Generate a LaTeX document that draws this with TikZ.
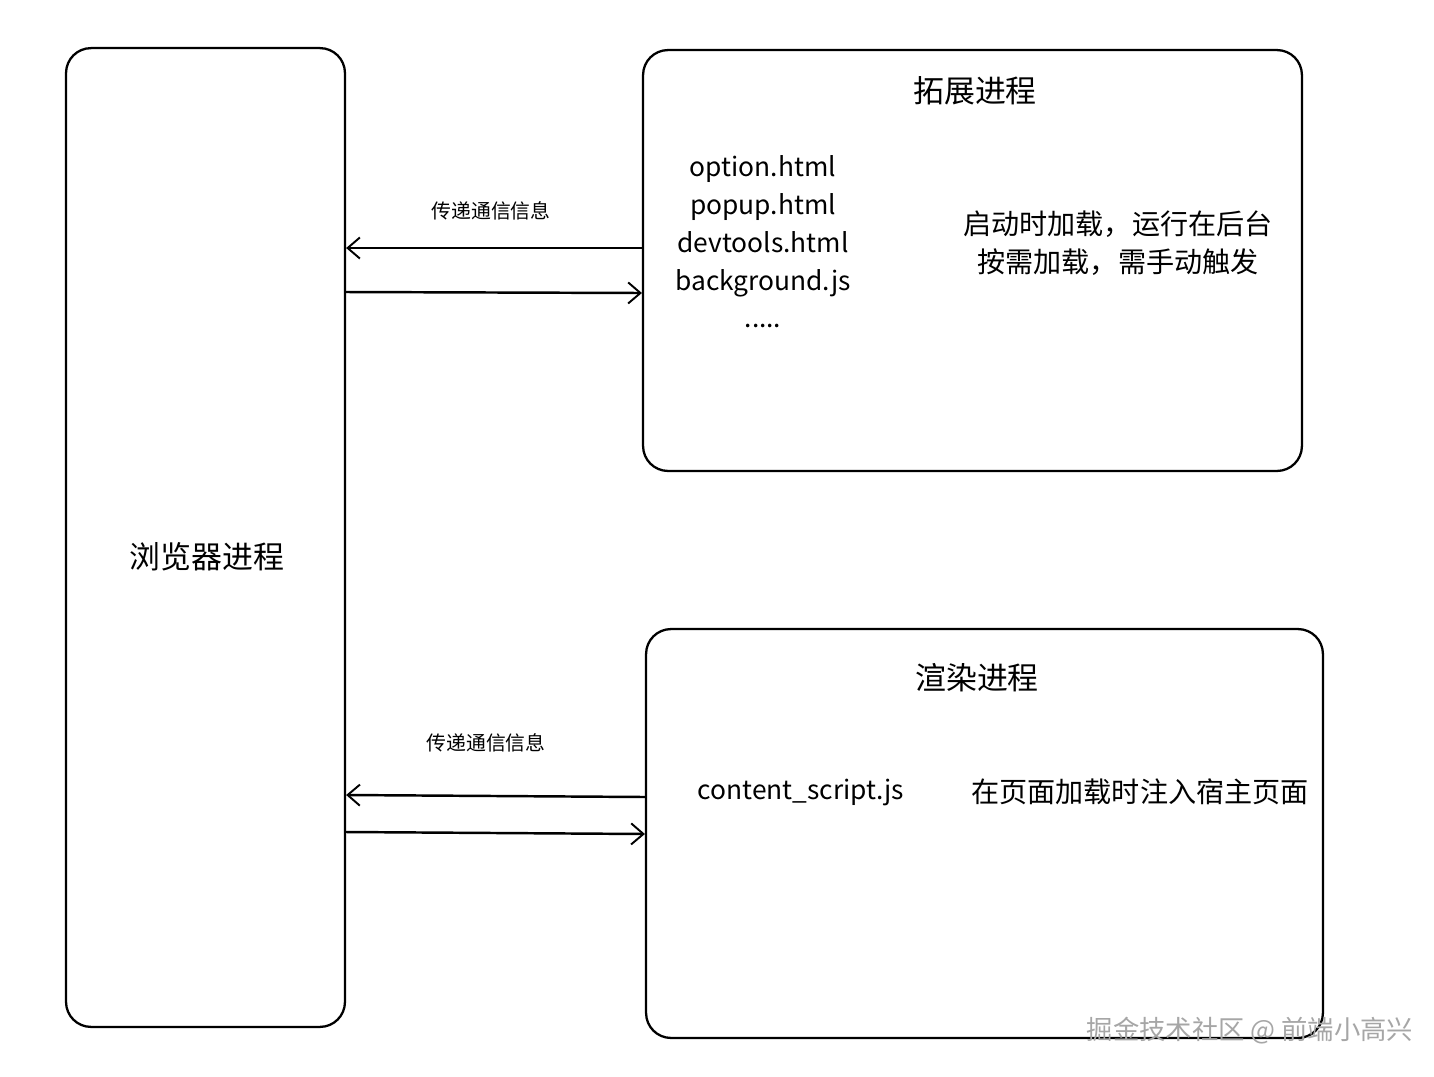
\documentclass[tikz,border=0pt]{standalone}
\usepackage{fontspec}
\setmainfont{Noto Sans CJK SC}
\usetikzlibrary{arrows.meta}

\begin{document}
\begin{tikzpicture}[x=0.02cm,y=-0.02cm,every node/.style={font=\small},
  proc/.style={draw, line width=1.3pt, rounded corners=0.5cm, inner sep=0pt},
  msg/.style={line width=1.4pt, -{Straight Barb[length=7pt,width=12pt,line width=1.1pt]}},
  lbl/.style={font=\fontsize{17.6pt}{21pt}\selectfont},
  item/.style={font=\fontsize{15pt}{18pt}\selectfont, text height=0.75em, text depth=0.22em, yshift=-0.1cm},
  note/.style={font=\fontsize{16pt}{19pt}\selectfont},
  tip/.style={font=\fontsize{11.3pt}{13pt}\selectfont}]
\useasboundingbox[fill=white] (0,0) rectangle (1434,1076);
% process boxes
\node[proc, minimum width=5.58cm, minimum height=19.58cm] (browser) at (205.5,537.5) {};
\node[proc, minimum width=13.18cm, minimum height=8.42cm] (ext) at (972.5,260.5) {};
\node[proc, minimum width=13.54cm, minimum height=8.18cm] (render) at (984.5,833.5) {};
% titles
\node[lbl] (browsertitle) at (207,557) {浏览器进程};
\node[lbl] (exttitle) at (975,91) {拓展进程};
\node[lbl] (rendertitle) at (977,678) {渲染进程};
% extension contents
\node[item] (opt) at (763,167) {option.html};
\node[item] (pop) at (763,205) {popup.html};
\node[item] (dev) at (763,243) {devtools.html};
\node[item] (bg) at (763,281) {background.js};
\node[item] (more) at (763,318) {.....};
\node[note] (load1) at (1118,224) {启动时加载，运行在后台};
\node[note] (load2) at (1118,262) {按需加载，需手动触发};
% render contents
\node[item] (cs) at (801,790) {content\_script.js};
\node[note] (inject) at (1140,792) {在页面加载时注入宿主页面};
% messages
\node[tip] (msg1) at (491,211) {传递通信信息};
\draw[msg] (ext.west |- 0,248) -- (browser.east |- 0,248);
\draw[msg] (browser.east |- 0,292) -- (ext.west |- 0,293);
\node[tip] (msg2) at (486,743) {传递通信信息};
\draw[msg] (render.west |- 0,797) -- (browser.east |- 0,795);
\draw[msg] (browser.east |- 0,832) -- (render.west |- 0,834);
% watermark
\node[item, text=gray!70] (mark) at (1250,1030) {掘金技术社区 @ 前端小高兴};
\end{tikzpicture}
\end{document}
